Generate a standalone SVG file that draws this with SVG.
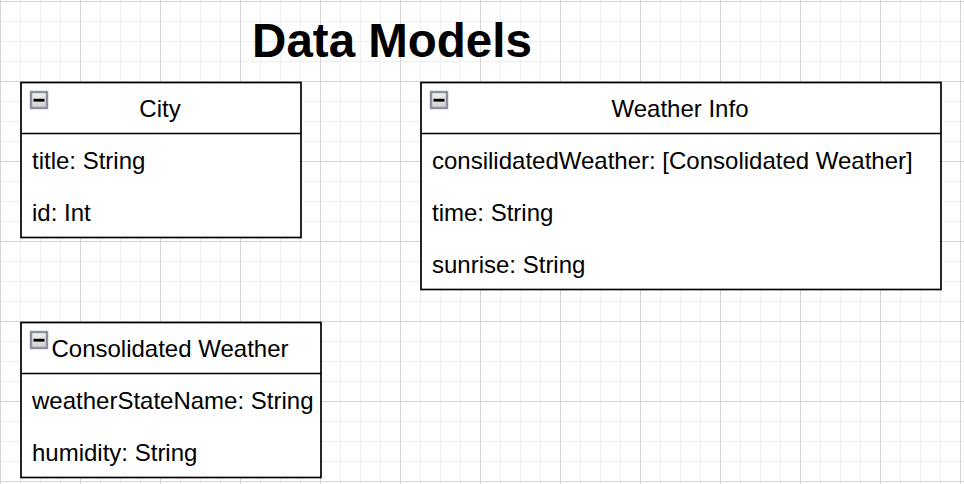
<svg xmlns="http://www.w3.org/2000/svg" width="964" height="484" viewBox="0 0 964 484">
  <defs>
    <pattern id="minor" x="0" y="1" width="20" height="20" patternUnits="userSpaceOnUse">
      <path d="M0.5 0V20M0 0.5H20" fill="none" stroke="#efefef" stroke-width="1"/>
    </pattern>
    <pattern id="major" x="0" y="1" width="80" height="80" patternUnits="userSpaceOnUse">
      <path d="M0.5 0V80M0 0.5H80" fill="none" stroke="#d4d4d4" stroke-width="1"/>
    </pattern>
    <linearGradient id="iconfill" x1="0" y1="0" x2="0" y2="1">
      <stop offset="0" stop-color="#f2f2f2"/>
      <stop offset="1" stop-color="#cfd0d3"/>
    </linearGradient>
    <g id="collapse">
      <rect x="0" y="0" width="16" height="16" fill="url(#iconfill)" stroke="#8a90a0" stroke-width="2.4"/>
      <rect x="2.5" y="6.8" width="11" height="2.8" fill="#000"/>
    </g>
  </defs>
  <style>
    .box { fill: #ffffff; stroke: #000000; stroke-width: 1.7; }
    .div { stroke: #000000; stroke-width: 1.7; }
    .hdr { font-family: "Liberation Sans", Arial, sans-serif; font-size: 24px; fill: #000; text-anchor: middle; }
    .row { font-family: "Liberation Sans", Arial, sans-serif; font-size: 24px; fill: #000; }
    .title { font-family: "Liberation Sans", Arial, sans-serif; font-size: 47.5px; font-weight: bold; fill: #000; text-anchor: middle; }
  </style>
  <rect x="0" y="0" width="964" height="484" fill="#ffffff"/>
  <rect x="0" y="0" width="964" height="484" fill="url(#minor)"/>
  <rect x="0" y="0" width="964" height="484" fill="url(#major)"/>

  <text class="title" x="392" y="57">Data Models</text>

  <g id="city">
    <rect class="box" x="21" y="82.5" width="280" height="155"/>
    <line class="div" x1="21" y1="133.5" x2="301" y2="133.5"/>
    <use href="#collapse" x="31" y="92"/>
    <text class="hdr" x="160" y="117">City</text>
    <text class="row" x="32" y="169">title: String</text>
    <text class="row" x="32" y="221">id: Int</text>
  </g>

  <g id="weather-info">
    <rect class="box" x="421" y="82.5" width="520" height="207"/>
    <line class="div" x1="421" y1="133.5" x2="941" y2="133.5"/>
    <use href="#collapse" x="431" y="92"/>
    <text class="hdr" x="680" y="117">Weather Info</text>
    <text class="row" x="432" y="169">consilidatedWeather: [Consolidated Weather]</text>
    <text class="row" x="432" y="221">time: String</text>
    <text class="row" x="432" y="273">sunrise: String</text>
  </g>

  <g id="consolidated-weather">
    <rect class="box" x="21" y="322.5" width="300" height="155"/>
    <line class="div" x1="21" y1="373.5" x2="321" y2="373.5"/>
    <use href="#collapse" x="31" y="332"/>
    <text class="hdr" x="170" y="357">Consolidated Weather</text>
    <text class="row" x="32" y="409">weatherStateName: String</text>
    <text class="row" x="32" y="461">humidity: String</text>
  </g>

  <g id="connectors"></g>
</svg>
